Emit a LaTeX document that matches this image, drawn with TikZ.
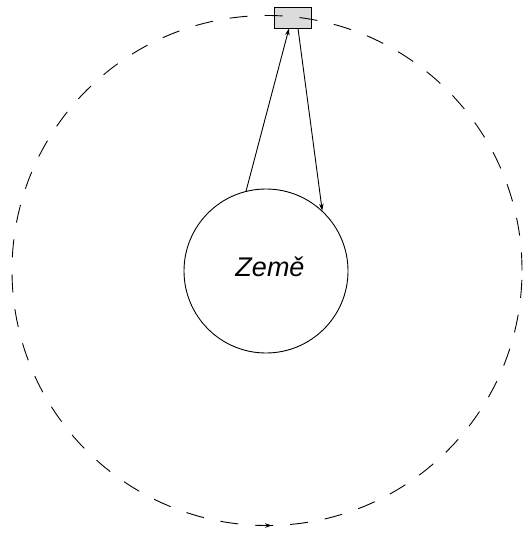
\documentclass[tikz,border=0pt]{standalone}
\usepackage{fontspec}
\setmainfont{Liberation Sans}
\usetikzlibrary{arrows.meta}
\begin{document}
\begin{tikzpicture}[x=1pt,y=-1pt,
  line width=0.9pt,
  tip/.style={-{Stealth[length=7pt,width=4.5pt]}},
  planet/.style={circle,draw,minimum size=164pt,inner sep=0pt},
  labeltext/.style={inner sep=0pt,font=\fontsize{27}{31}\selectfont\itshape},
  sat/.style={rectangle,draw,fill=black!14,minimum width=37pt,minimum height=21pt,inner sep=0pt},
  orbitline/.style={dash pattern=on 18pt off 17pt}]
\useasboundingbox (0,0) rectangle (522,534);
\node[planet] (earth) at (266,271) {};
\node[labeltext,anchor=base] (name) at (270,276.5) {Země};
\node[sat] (sat) at (292.5,17.5) {};
\coordinate (oc) at (267,270.5);
\draw[orbitline] (oc) circle[radius=255pt];
\coordinate (a1) at (262,525.5);
\coordinate (a2) at (272,525.5);
\draw[tip] (a1) -- (a2);
\draw[tip] (earth.104) -- ([xshift=-3.5pt]sat.south);
\draw[tip] ([xshift=5.5pt]sat.south) -- (earth.47);
\end{tikzpicture}
\end{document}
